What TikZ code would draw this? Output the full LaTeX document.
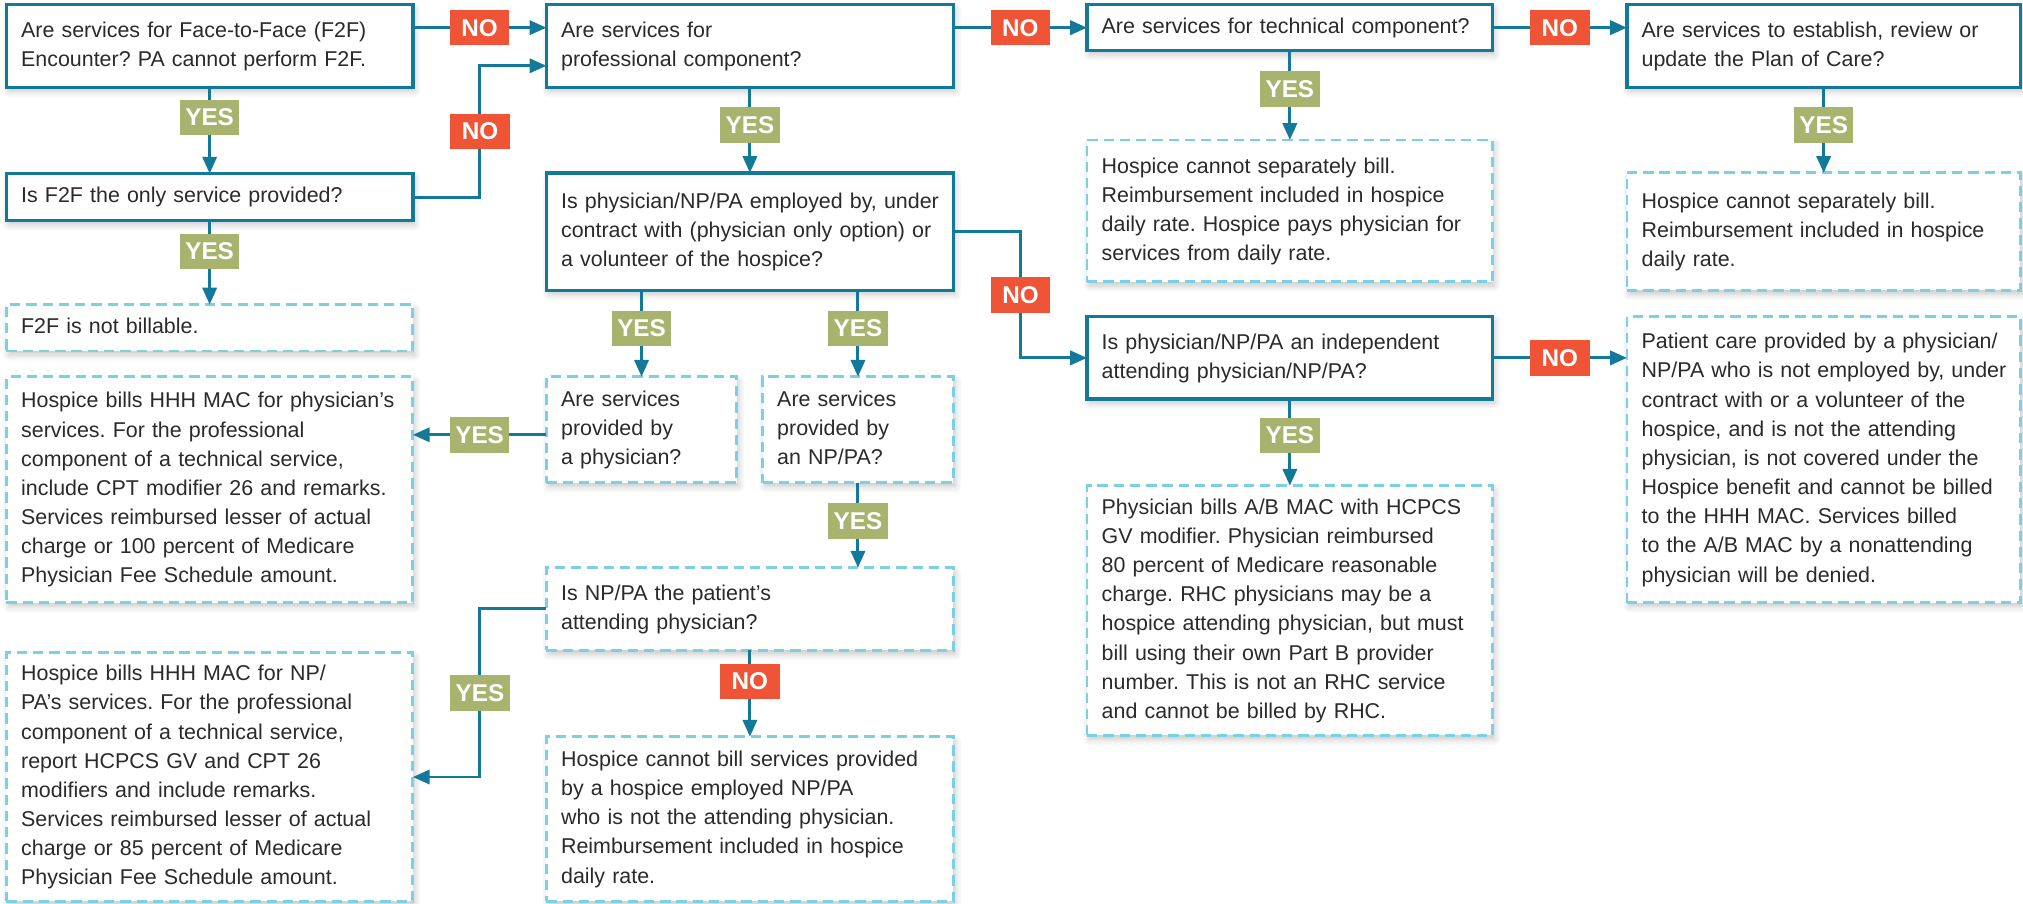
\documentclass[tikz,border=0pt]{standalone}
\usepackage{fontspec}
\setmainfont{Liberation Sans}
\frenchspacing
\usetikzlibrary{arrows.meta,shadows.blur,calc}
\definecolor{flowblue}{HTML}{13799A}
\definecolor{dashblue}{HTML}{7DCFE6}
\definecolor{noRed}{HTML}{EF5437}
\definecolor{yesGreen}{HTML}{A8B46E}
\definecolor{txt}{HTML}{2A2A2A}
\newcommand\boxlines[1]{\begin{tabular}{@{}l@{}}#1\end{tabular}}
\tikzset{
  base/.style={fill=white, inner xsep=5.7pt, inner ysep=0pt, outer sep=0pt,
    anchor=north west, align=left, text=txt,
    font=\fontsize{8.3}{11.3}\selectfont\frenchspacing,
    blur shadow={shadow blur steps=6, shadow xshift=0.8pt, shadow yshift=-1.6pt,
      shadow opacity=22, shadow blur radius=2.5pt}},
  qbox/.style={base, draw=flowblue, line width=1.3pt},
  abox/.style={base, draw=dashblue, line width=1.1pt, dash pattern=on 4pt off 2.3pt},
  sz/.style 2 args={text width=#1, minimum height=#2},
  yes/.style={fill=yesGreen, text=white, font=\fontsize{9.4}{10}\selectfont\bfseries,
    minimum width=23pt, minimum height=13.8pt, inner sep=0pt},
  no/.style={yes, fill=noRed},
  arr/.style={draw=flowblue, line width=1.15pt, -{Triangle[length=6.5pt,width=5.5pt]}},
}
\begin{document}
\begin{tikzpicture}[x=0.5pt,y=-0.5pt]
\useasboundingbox (0,0) rectangle (1568,700);
% column 1
\node[qbox, sz={146.1pt}{32pt}] (A) at (5,3.6) {\boxlines{Are services for Face-to-Face (F2F)\\Encounter? PA cannot perform F2F.}};
\node[qbox, sz={146.1pt}{18.25pt}] (B) at (5,134.5) {\boxlines{Is F2F the only service provided?}};
\node[abox, sz={146.1pt}{18pt}] (C) at (5,236) {\boxlines{F2F is not billable.}};
\node[abox, sz={146.1pt}{87.5pt}] (D) at (5,292) {\boxlines{Hospice bills HHH MAC for physician’s\\services. For the professional\\component of a technical service,\\include CPT modifier 26 and remarks.\\Services reimbursed lesser of actual\\charge or 100 percent of Medicare\\Physician Fee Schedule amount.}};
\node[abox, sz={146.1pt}{96.25pt}] (E) at (5,506) {\boxlines{Hospice bills HHH MAC for NP/\\PA’s services. For the professional\\component of a technical service,\\report HCPCS GV and CPT 26\\modifiers and include remarks.\\Services reimbursed lesser of actual\\charge or 85 percent of Medicare\\Physician Fee Schedule amount.}};
% column 2
\node[qbox, sz={146.35pt}{32pt}] (P) at (423.5,3.6) {\boxlines{Are services for\\professional component?}};
\node[qbox, sz={146.35pt}{45.5pt}] (F) at (423.5,134) {\boxlines{Is physician/NP/PA employed by, under\\contract with (physician only option) or\\a volunteer of the hospice?}};
\node[abox, sz={62.35pt}{41pt}] (G) at (423.5,292) {\boxlines{Are services\\provided by\\a physician?}};
\node[abox, sz={62.6pt}{41pt}] (H) at (591,292) {\boxlines{Are services\\provided by\\an NP/PA?}};
\node[abox, sz={146.35pt}{32pt}] (J) at (423.5,440) {\boxlines{Is NP/PA the patient’s\\attending physician?}};
\node[abox, sz={146.35pt}{63.75pt}] (K) at (423.5,571) {\boxlines{Hospice cannot bill services provided\\by a hospice employed NP/PA\\who is not the attending physician.\\Reimbursement included in hospice\\daily rate.}};
% column 3
\node[qbox, sz={145.85pt}{17.85pt}] (T) at (842.5,3.6) {\boxlines{Are services for technical component?}};
\node[abox, sz={145.85pt}{55pt}] (L) at (842.5,108.5) {\boxlines{Hospice cannot separately bill.\\Reimbursement included in hospice\\daily rate. Hospice pays physician for\\services from daily rate.}};
\node[qbox, sz={145.85pt}{31.9pt}] (I) at (842.5,245.5) {\boxlines{Is physician/NP/PA an independent\\attending physician/NP/PA?}};
\node[abox, sz={145.85pt}{96.75pt}] (O) at (842.5,376.5) {\boxlines{Physician bills A/B MAC with HCPCS\\GV modifier. Physician reimbursed\\80 percent of Medicare reasonable\\charge. RHC physicians may be a\\hospice attending physician, but must\\bill using their own Part B provider\\number. This is not an RHC service\\and cannot be billed by RHC.}};
% column 4
\node[qbox, sz={141.1pt}{32pt}] (Q) at (1261,3.6) {\boxlines{Are services to establish, review or\\update the Plan of Care?}};
\node[abox, sz={141.1pt}{45.5pt}] (M) at (1261,134) {\boxlines{Hospice cannot separately bill.\\Reimbursement included in hospice\\daily rate.}};
\node[abox, sz={141.1pt}{110.75pt}] (N) at (1261,245.5) {\boxlines{Patient care provided by a physician/\\NP/PA who is not employed by, under\\contract with or a volunteer of the\\hospice, and is not the attending\\physician, is not covered under the\\Hospice benefit and cannot be billed\\to the HHH MAC. Services billed\\to the A/B MAC by a nonattending\\physician will be denied.}};
% turning points
\coordinate (bp) at (372,51);
\coordinate (fi) at (791,277.4);
\coordinate (je) at (372,602.25);
% connectors
\draw[arr] (A.east |- T.west) -- node[no]{NO} (P.west |- T.west);
\draw[arr] (P.east |- T.west) -- node[no]{NO} (T.west);
\draw[arr] (T.east) -- node[no]{NO} (T.east -| Q.west);
\draw[arr] (A.south) -- node[yes,pos=0.35]{YES} (B.north);
\draw[arr] (B.south) -- node[yes,pos=0.37]{YES} (C.north);
\draw[arr] (B.east) -| node[no,pos=0.75]{NO} (bp) -- (P.west |- bp);
\draw[arr] (P.south) -- node[yes,pos=0.44]{YES} (F.north);
\draw[arr] (T.south) -- node[yes,pos=0.43]{YES} (L.north);
\draw[arr] (Q.south) -- node[yes,pos=0.44]{YES} (M.north);
\draw[arr] (F.south -| G.north) -- node[yes,pos=0.44]{YES} (G.north);
\draw[arr] (F.south -| H.north) -- node[yes,pos=0.44]{YES} (H.north);
\draw[arr] (F.east) -| node[no,pos=0.75]{NO} (fi) -- (I.west);
\draw[arr] ([yshift=-2pt]G.west) -- node[yes]{YES} ([yshift=-2pt]G.west -| D.east);
\draw[arr] (H.south) -- node[yes,pos=0.45]{YES} (H.south |- J.north);
\draw[arr] (J.west) -| node[yes,pos=0.75]{YES} (je) -- (E.east);
\draw[arr] (J.south) -- node[no,pos=0.36]{NO} (K.north);
\draw[arr] (I.east) -- node[no]{NO} (I.east -| N.west);
\draw[arr] (I.south) -- node[yes,pos=0.42]{YES} (O.north);
\end{tikzpicture}
\end{document}
